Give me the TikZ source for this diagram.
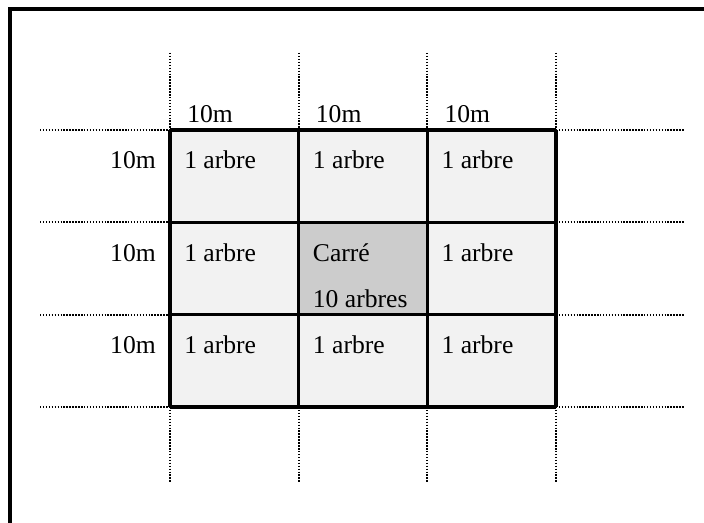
\documentclass[tikz,border=0pt]{standalone}
\usepackage{fontspec}
\setmainfont{Liberation Serif}
\definecolor{celllight}{HTML}{F2F2F2}
\definecolor{celldark}{HTML}{CCCCCC}
\begin{document}
\begin{tikzpicture}[x=0.75pt,y=-0.75pt,
  frameline/.style={line width=2.4pt},
  gridline/.style={line width=2.4pt},
  guideline/.style={line width=1.4pt,dash pattern=on 1.1pt off 1.1pt},
  lbl/.style={inner sep=0pt,font=\fontsize{19.2}{23}\selectfont},
  cell/.style={draw=none,inner sep=0pt,minimum width=96.5pt,minimum height=69.4pt,anchor=north west}]
\useasboundingbox (0,0) rectangle (704,523);
% frame
\draw[frameline] (704,9) -- (10,9) -- (10,523);
% cells
\foreach \r in {0,1,2}{
  \foreach \c in {0,1,2}{
    \node[cell,fill=celllight] (c\r\c) at ({170+128.67*\c},{130+92.33*\r}) {};
  }
}
\node[cell,fill=celldark] (c11b) at (298.67,222.33) {};
% guide lines
\foreach \x in {170,298.67,427.33,556}{
  \draw[guideline] (\x,53) -- (\x,130);
  \draw[guideline] (\x,407) -- (\x,483);
}
\foreach \y in {130,222.33,314.67,407}{
  \draw[guideline] (40,\y) -- (170,\y);
  \draw[guideline] (556,\y) -- (684,\y);
}
% grid
\foreach \x in {170,298.67,427.33,556}{
  \draw[gridline] (\x,130) -- (\x,407);
}
\foreach \y in {130,222.33,314.67,407}{
  \draw[gridline] (170,\y) -- (556,\y);
}
% top labels
\node[lbl,anchor=base west] (t0) at (187,123) {10m};
\node[lbl,anchor=base west] (t1) at (315.67,123) {10m};
\node[lbl,anchor=base west] (t2) at (444.33,123) {10m};
% row labels
\node[lbl,anchor=base east] (r0) at (156,169) {10m};
\node[lbl,anchor=base east] (r1) at (156,261.33) {10m};
\node[lbl,anchor=base east] (r2) at (156,353.67) {10m};
% cell texts
\node[lbl,anchor=base west] (a00) at (184,169) {1 arbre};
\node[lbl,anchor=base west] (a01) at (312.67,169) {1 arbre};
\node[lbl,anchor=base west] (a02) at (441.33,169) {1 arbre};
\node[lbl,anchor=base west] (a10) at (184,261.33) {1 arbre};
\node[lbl,anchor=base west] (a11) at (312.67,261.33) {Carré};
\node[lbl,anchor=base west] (a11b) at (312.67,307.5) {10 arbres};
\node[lbl,anchor=base west] (a12) at (441.33,261.33) {1 arbre};
\node[lbl,anchor=base west] (a20) at (184,353.67) {1 arbre};
\node[lbl,anchor=base west] (a21) at (312.67,353.67) {1 arbre};
\node[lbl,anchor=base west] (a22) at (441.33,353.67) {1 arbre};
\end{tikzpicture}
\end{document}
